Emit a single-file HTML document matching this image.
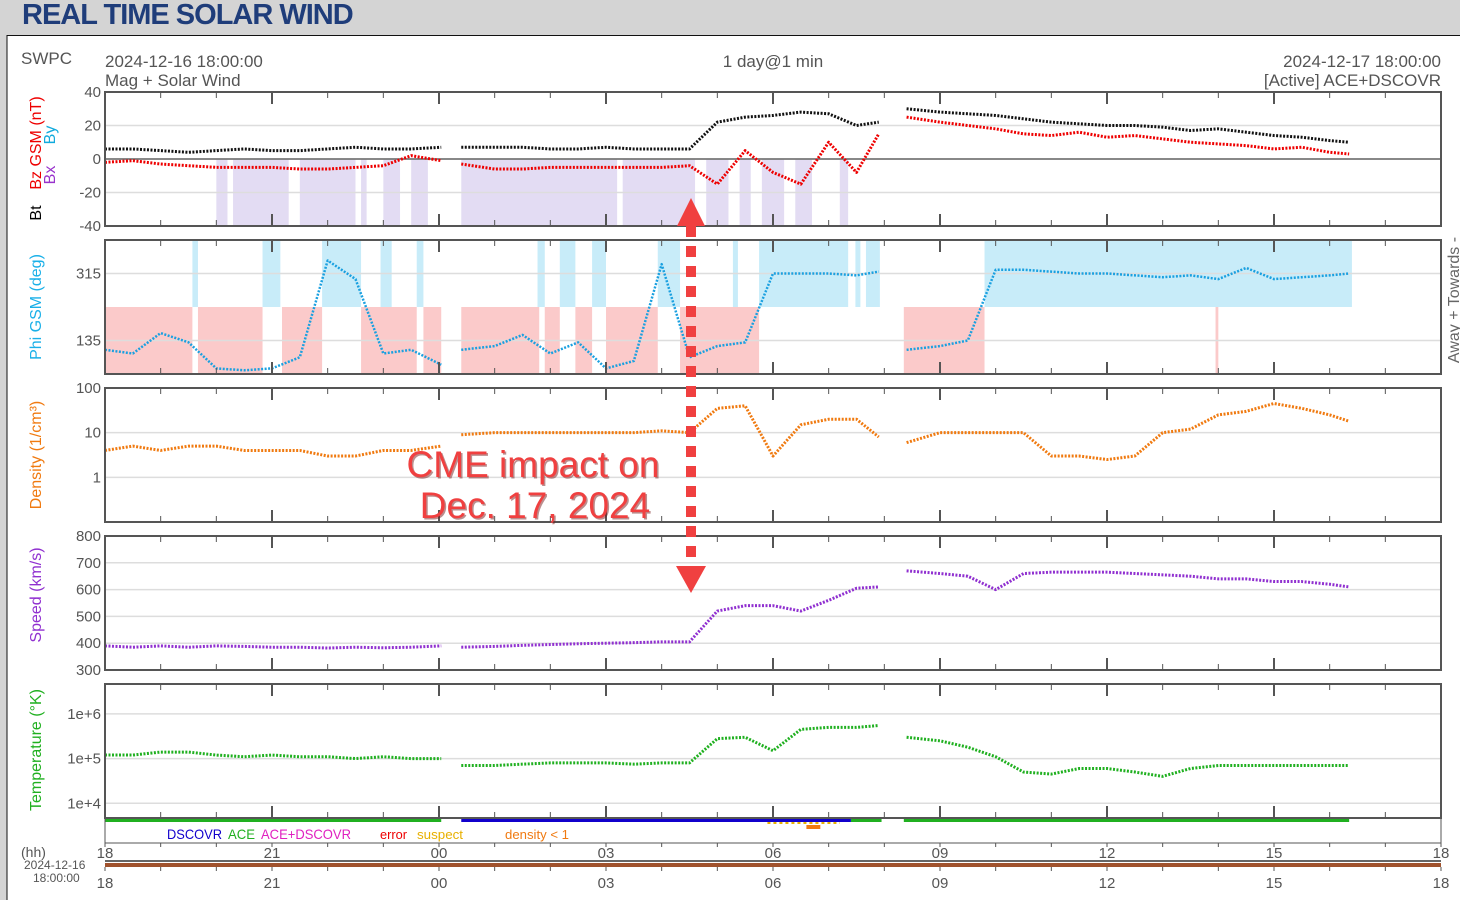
<!DOCTYPE html>
<html><head><meta charset="utf-8">
<style>
html,body{margin:0;padding:0;background:#d4d4d4;width:1460px;height:900px;overflow:hidden;font-family:"Liberation Sans",Arial,sans-serif}
svg{position:absolute;left:0;top:0}
</style></head>
<body>
<svg id="chart" width="1460" height="900" xmlns="http://www.w3.org/2000/svg">
<rect x="0" y="0" width="1460" height="36" fill="#d4d4d4"/>
<text x="22" y="24" font-size="29" font-weight="bold" fill="#1f3d7a" letter-spacing="-1">REAL TIME SOLAR WIND</text>
<rect x="7" y="35.5" width="1460" height="870" fill="#fff" stroke="#111" stroke-width="1"/>
<g font-size="17" fill="#555">
<text x="21" y="64">SWPC</text>
<text x="105" y="67">2024-12-16 18:00:00</text>
<text x="105" y="86">Mag + Solar Wind</text>
<text x="773" y="67" text-anchor="middle">1 day@1 min</text>
<text x="1441" y="67" text-anchor="end">2024-12-17 18:00:00</text>
<text x="1441" y="86" text-anchor="end">[Active] ACE+DSCOVR</text>
</g>
<g id="plots"></g>
</svg>
<script>
// time grid: hours since 2024-12-16 18:00
const times = [0,0.5,1,1.5,2,2.5,3,3.5,4,4.5,5,5.5,6.04,6.4,7,7.5,8,8.5,9,9.5,10,10.5,11,11.5,12,12.5,13,13.5,13.9,14.4,15,15.5,16,16.5,17,17.5,18,18.5,19,19.5,20,20.5,21,21.5,22,22.35];
const dataGaps = [[6.04,6.4],[13.9,14.4]];
const bt  = [6,6,5,4,5,6,5,5,6,7,6,6,7, 7,7,7,6,6,7,6,6,6, 22,25,26,28,27,20,22,30,28,27,26,24,22,21,20,20,19,17,18,16,14,13,11,10];
const bz  = [-2,-1,-3,-4,-5,-5,-5,-6,-6,-5,-4,2,-1, -3,-6,-6,-5,-5,-5,-5,-5,-4, -15,5,-8,-15,10,-8,15,25,22,20,18,15,14,16,13,14,12,10,9,8,6,7,4,3];
const phi = [110,100,155,130,60,55,60,90,350,300,100,110,70, 110,120,150,100,130,60,80,340,90, 120,130,315,315,315,310,320,110,120,135,325,325,320,315,315,310,305,310,300,330,300,305,310,315];
const density = [4,5,4,5,5,4,4,4,3,3,4,4,5, 9,10,10,10,10,10,10,11,10, 35,40,3,15,20,20,8,6,10,10,10,10,3,3,2.5,3,10,12,25,30,45,35,25,18];
const speed = [390,385,390,385,390,388,385,385,382,385,383,385,390, 385,388,392,395,398,400,402,405,405, 520,540,540,520,560,605,610,670,660,650,600,660,665,665,665,660,655,650,640,640,630,630,620,610];
const temp = [1.2e5,1.2e5,1.4e5,1.4e5,1.2e5,1.1e5,1.2e5,1.1e5,1.1e5,1.0e5,1.1e5,1.0e5,1.0e5, 7e4,7e4,7.5e4,8e4,8e4,8e4,7.5e4,8e4,8e4, 2.8e5,3e5,1.5e5,4.5e5,5e5,5e5,5.5e5,3e5,2.5e5,1.8e5,1.1e5,5e4,4.5e4,6e4,6e4,5e4,4e4,6e4,7e4,7e4,7e4,7e4,7e4,7e4];
// shading intervals (hours)
const bzNegShade = [[2,2.2],[2.3,3.3],[3.5,4.5],[4.6,4.7],[5,5.3],[5.5,5.8],[6.4,9.2],[9.3,10.6],[10.8,11.2],[11.4,11.6],[11.8,12.2],[12.4,12.7],[13.2,13.35]];
const awayShade = [[1.57,1.67],[2.83,3.15],[3.9,4.6],[4.95,5.15],[5.6,5.72],[7.77,7.9],[8.17,8.45],[8.75,9.0],[9.93,10.33],[11.28,11.37],[11.75,13.35],[13.48,13.57],[13.67,13.92],[15.8,22.4]];
const towardShade = [[0,1.57],[1.67,2.83],[3.18,3.9],[4.6,5.6],[5.72,6.04],[6.4,7.8],[7.9,8.17],[8.45,8.75],[9.0,9.93],[10.33,11.75],[14.35,15.8],[19.95,20.0]];
const srcAce = [[0,6.04],[13.4,13.95],[14.35,22.35]];
const srcDscovr = [[6.4,13.4]];
const hourTicks = ['18','21','00','03','06','09','12','15','18'];
const magTicks = [40,20,0,-20,-40];
const phiTicks = [315,135];
const denTicks = [100,10,1];
const spdTicks = [800,700,600,500,400,300];
const tmpTicks = [1e6,1e5,1e4];

const NS='http://www.w3.org/2000/svg';
const g=document.getElementById('plots');
const X0=105,X1=1441;
const xs=t=>X0+t*(X1-X0)/24;
function el(tag,attrs,parent){const e=document.createElementNS(NS,tag);for(const k in attrs)e.setAttribute(k,attrs[k]);(parent||g).appendChild(e);return e;}
function lin(v0,v1,y0,y1){return v=>y0+(v-v0)*(y1-y0)/(v1-v0);}
function logs(l0,l1,y0,y1){return v=>y0+(Math.log10(v)-l0)*(y1-y0)/(l1-l0);}

function frame(top,bot,name){
  const r=el('rect',{x:X0,y:top,width:X1-X0,height:bot-top,fill:'none',stroke:'#555','stroke-width':2});
  
  
  for(let h=0;h<=24;h++){
    const big=h%3===0, len=big?12:6;
    el('line',{x1:xs(h),x2:xs(h),y1:top,y2:top+len,stroke:'#555','stroke-width':big?2:1});
    el('line',{x1:xs(h),x2:xs(h),y1:bot,y2:bot-len,stroke:'#555','stroke-width':big?2:1});
  }
}
function grid(ys,scale,labels,top,bot,name){
  ys.forEach((v,i)=>{
    const y=scale(v);
    if(y>top+1&&y<bot-1){el('line',{x1:X0,x2:X1,y1:y,y2:y,stroke:'#ddd','stroke-width':1.5});}
    const t=el('text',{x:X0-4,y:y+5,'text-anchor':'end','font-size':15,fill:'#555'});
    t.textContent=labels[i];
    
    
  });
}
function shade(list,y0,y1,color,name){
  list.forEach(s=>{
    const r=el('rect',{x:xs(s[0]),y:y0,width:xs(s[1])-xs(s[0]),height:y1-y0,fill:color});
    
    
  });
}
function crossesGap(a,b){return dataGaps.some(gp=>a<=gp[0]&&b>=gp[1]);}
function series(vals,scale,color,name,w){
  let seg=[];const segs=[];let lastT=null;
  vals.forEach((v,i)=>{
    const t=times[i];
    if(v===null){if(seg.length)segs.push(seg);seg=[];lastT=null;return;}
    if(lastT!==null&&crossesGap(lastT,t)){if(seg.length)segs.push(seg);seg=[];}
    seg.push([xs(t),scale(v)]);lastT=t;
  });
  if(seg.length)segs.push(seg);
  segs.forEach(s=>{
    if(s.length===1)s.push([s[0][0]+2,s[0][1]]);
    const p=el('polyline',{points:s.map(q=>q.join(',')).join(' '),fill:'none',stroke:color,'stroke-width':w||3,'stroke-dasharray':'2 1.5','stroke-linejoin':'round'});
    
    
  });
}
function ylabel(x,y,parts,name){
  const t=el('text',{transform:`translate(${x},${y}) rotate(-90)`,'text-anchor':'middle','font-size':16});
  
  
  parts.forEach(p=>{const s=el('tspan',{fill:p[1]},t);s.textContent=p[0];});
}

// Panel 1: mag
const yMag=lin(40,-40,92,226);
shade(bzNegShade,159,226,'#e3dcf3','bz-negative-shade');
grid(magTicks,yMag,magTicks.map(String),92,226,'mag');
el('line',{x1:X0,x2:X1,y1:yMag(0),y2:yMag(0),stroke:'#666','stroke-width':1.5});
series(bt,yMag,'#111','bt-series');
series(bz,yMag,'#e00','bz-series');
frame(92,226,'mag-panel');
ylabel(41,143,[['Bz GSM (nT)','#e00']],'bz-axis-title');
ylabel(41,213,[['Bt','#000']],'bt-axis-title');
ylabel(55,175,[['Bx','#93c']],'bx-axis-title');
ylabel(55,135,[['By','#1ad']],'by-axis-title');

// Panel 2: phi
const yPhi=lin(405,45,240,374);
shade(awayShade,240,307,'#c8ecf9','away-shade');
shade(towardShade,307,374,'#fbcaca','toward-shade');
grid(phiTicks,yPhi,phiTicks.map(String),240,374,'phi');
series(phi.map(v=>v===null?null:Math.max(50,v)),yPhi,'#1aa0e0','phi-series',2.5);
frame(240,374,'phi-panel');
ylabel(41,307,[['Phi GSM (deg)','#1ab0e8']],'phi-axis-title');
ylabel(1459,300,[['Away +  Towards -','#666']],'away-towards-label');

// Panel 3: density
const yDen=logs(2,-1,388,522);
grid(denTicks,yDen,['100','10','1'],388,522,'density');
series(density,yDen,'#f07a10','density-series');
frame(388,522,'density-panel');
ylabel(41,455,[['Density (1/cm³)','#f07a10']],'density-axis-title');

// Panel 4: speed
const ySpd=lin(800,300,536,670);
grid(spdTicks,ySpd,spdTicks.map(String),536,670,'speed');
series(speed,ySpd,'#9030d0','speed-series');
frame(536,670,'speed-panel');
ylabel(41,595,[['Speed (km/s)','#9030d0']],'speed-axis-title');

// Panel 5: temperature
const yTmp=logs(6.67,3.67,684,818);
grid(tmpTicks,yTmp,['1e+6','1e+5','1e+4'],684,818,'temp');
series(temp,yTmp,'#20b020','temp-series');
frame(684,818,'temp-panel');
ylabel(41,750,[['Temperature (°K)','#20b020']],'temp-axis-title');

// source bars
srcAce.forEach(s=>{const r=el('rect',{x:xs(s[0]),y:819,width:xs(s[1])-xs(s[0]),height:3,fill:'#20b020'});});
srcDscovr.forEach(s=>{const r=el('rect',{x:xs(s[0]),y:819,width:xs(s[1])-xs(s[0]),height:3,fill:'#10c'});});
el('rect',{x:X0,y:818,width:X1-X0,height:25,fill:'none',stroke:'#555','stroke-width':1});
el('rect',{x:xs(12.6),y:825,width:xs(12.85)-xs(12.6),height:4,fill:'#f07a10'});
el('line',{x1:xs(11.9),x2:xs(13.2),y1:823,y2:823,stroke:'#e8b000','stroke-width':2,'stroke-dasharray':'3 3'});
const leg=[['DSCOVR','#10c',167,55],['ACE','#20b020',228,27],['ACE+DSCOVR','#e020c0',261,90],['error','#e00',380,27],['suspect','#e8b000',417,46],['density < 1','#f07a10',505,64]];
leg.forEach(l=>{const t=el('text',{x:l[2],y:839,'font-size':l[2]>=380?13:14,fill:l[1],textLength:l[3],lengthAdjust:'spacingAndGlyphs'});t.textContent=l[0];});

// bottom time axes
el('line',{x1:X0,x2:X1,y1:861,y2:861,stroke:'#666','stroke-width':2});
el('rect',{x:X0,y:863,width:X1-X0,height:4,fill:'#a0522d'});
for(let h=0;h<=24;h++){
  el('line',{x1:xs(h),x2:xs(h),y1:843,y2:847,stroke:'#555'});
  el('line',{x1:xs(h),x2:xs(h),y1:867,y2:871,stroke:'#555'});
}
hourTicks.forEach((lab,i)=>{
  [858,888].forEach(y=>{const t=el('text',{x:xs(i*3),y:y,'text-anchor':'middle','font-size':15,fill:'#555'});t.textContent=lab;});
});
[['(hh)',21,857,14],['2024-12-16',24,869,12],['18:00:00',33,882,12]].forEach(a=>{const t=el('text',{x:a[1],y:a[2],'font-size':a[3],fill:'#555'});t.textContent=a[0];});

// CME annotation
const ann=el('g',{});


el('line',{x1:691,x2:691,y1:226,y2:566,stroke:'#f04040','stroke-width':10,'stroke-dasharray':'11 9'},ann);
el('polygon',{points:'677,226 705,226 691,198',fill:'#f04040'},ann);
el('polygon',{points:'676,566 706,566 691,593',fill:'#f04040'},ann);
[['CME impact on',533,477],['Dec. 17, 2024',535,518]].forEach(a=>{
  const s=el('text',{x:a[1]+1.5,y:a[2]+1.5,'text-anchor':'middle','font-size':37,fill:'#7a2020',opacity:0.5},ann);s.textContent=a[0];
  const t=el('text',{x:a[1],y:a[2],'text-anchor':'middle','font-size':37,fill:'#f04040'},ann);t.textContent=a[0];
  
  
});
</script>
</body></html>
